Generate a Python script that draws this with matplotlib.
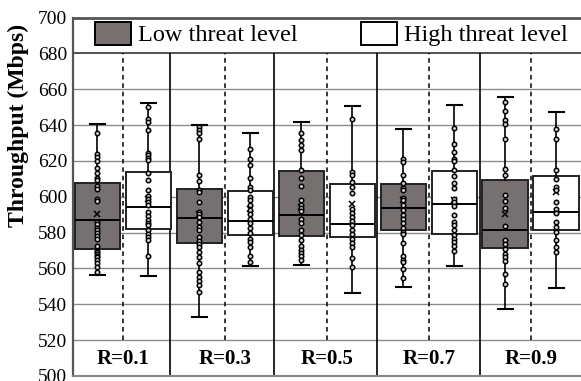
import matplotlib
matplotlib.use("Agg")
import matplotlib.pyplot as plt
from matplotlib.patches import Patch

plt.rcParams["font.family"] = ["Liberation Serif", "DejaVu Serif"]

categories = ["R=0.1", "R=0.3", "R=0.5", "R=0.7", "R=0.9"]
series_names = ["Low threat level", "High threat level"]

# box statistics (Mbps)
low_whislo = [556.4, 533.1, 562.0, 549.9, 537.4]
low_q1 = [570.6, 574.1, 578.1, 581.2, 571.5]
low_med = [586.8, 588.3, 589.8, 593.9, 581.6]
low_q3 = [607.7, 604.4, 614.3, 607.3, 609.6]
low_whishi = [640.4, 640.0, 641.9, 637.6, 655.9]
low_mean = [590.2, 590.6, 594.3, 598.0, 590.2]

high_whislo = [555.9, 561.1, 546.3, 561.3, 549.0]
high_q1 = [582.0, 578.4, 577.3, 579.4, 581.2]
high_med = [594.3, 586.5, 585.0, 595.8, 591.5]
high_q3 = [613.7, 603.2, 607.0, 614.1, 611.8]
high_whishi = [652.1, 635.3, 650.8, 651.2, 647.5]
high_mean = [598.5, 593.4, 596.2, 598.4, 602.7]

# inner points (Mbps)
low_points = [
    [635.3, 623.6, 622.3, 620.0, 616.3, 613.3, 610.7, 609.2, 605.9, 604.6, 599.0, 597.5,
     585.9, 584.6, 582.7, 581.2, 579.7, 577.9, 576.6, 572.8, 570.0, 569.1, 568.2, 567.2,
     566.3, 564.8, 562.9, 560.7, 557.9],
    [638.7, 637.2, 635.3, 632.0, 612.4, 608.8, 604.0, 602.6, 597.0, 591.4, 590.2, 588.7,
     585.9, 583.2, 581.2, 577.5, 575.3, 573.4, 571.9, 569.1, 566.3, 562.9, 557.9, 555.4,
     553.2, 550.8, 546.6],
    [635.7, 631.6, 628.8, 626.0, 615.2, 610.7, 605.9, 598.0, 595.2, 593.9, 592.0, 587.8,
     585.3, 581.2, 578.4, 576.0, 572.8, 570.4, 568.5, 566.7, 564.8],
    [620.8, 619.5, 612.0, 607.7, 605.1, 603.6, 599.5, 598.0, 595.2, 592.8, 589.6, 587.8,
     585.3, 582.7, 580.3, 579.0, 574.1, 566.7, 564.8, 563.5, 559.8, 554.7],
    [653.1, 648.1, 642.8, 640.6, 632.0, 615.6, 612.4, 600.8, 597.5, 593.9, 583.5, 575.6,
     573.7, 570.9, 568.2, 566.3, 564.1, 557.0, 551.4],
]
high_points = [
    [650.3, 643.2, 641.5, 637.2, 624.5, 623.2, 621.7, 620.4, 613.3, 609.6, 603.6, 600.3,
     599.0, 597.1, 595.2, 591.5, 589.0, 587.2, 585.3, 584.0, 581.2, 579.0, 577.5, 576.0,
     567.2],
    [626.9, 620.8, 617.6, 610.7, 605.4, 603.6, 599.9, 598.0, 595.2, 592.4, 590.2, 587.8,
     585.3, 582.7, 579.7, 576.6, 574.7, 571.9, 567.2, 563.5],
    [643.2, 613.9, 612.0, 608.3, 605.4, 602.1, 593.4, 590.9, 588.7, 586.5, 584.0, 581.2,
     579.3, 576.6, 574.1, 571.9, 566.0, 560.7],
    [638.1, 629.7, 625.0, 621.3, 620.0, 614.8, 611.5, 607.7, 604.9, 598.9, 597.1, 594.7,
     589.6, 585.9, 584.0, 581.6, 578.4, 576.6, 574.7, 572.3, 569.7],
    [637.6, 632.0, 614.8, 610.1, 605.4, 603.6, 597.1, 593.4, 590.9, 585.9, 583.2, 580.3,
     575.6, 571.9, 569.1],
]

y_ticks = list(range(500, 701, 20))
low_color = "#777070"
high_color = "white"


def make_stats(wlo, q1, med, q3, whi, mean):
    return [dict(whislo=a, q1=b, med=c, q3=d, whishi=e, mean=f, fliers=[])
            for a, b, c, d, e, f in zip(wlo, q1, med, q3, whi, mean)]


def main():
    fig = plt.figure(figsize=(5.81, 3.81), dpi=100)
    ax = fig.add_axes([73 / 581, 5 / 381, 512 / 581, 358.5 / 381])

    centers = list(range(len(categories)))
    offset, width = 0.25, 0.45

    box_kw = dict(widths=width, patch_artist=True, showmeans=True, showfliers=False,
                  capwidths=0.14,
                  whiskerprops=dict(color="black", lw=1.2),
                  capprops=dict(color="black", lw=1.5),
                  medianprops=dict(color="black", lw=1.4),
                  meanprops=dict(marker="x", markersize=5, markeredgecolor="black",
                                 markeredgewidth=1.1),
                  manage_ticks=False, zorder=3)

    series = [
        (make_stats(low_whislo, low_q1, low_med, low_q3, low_whishi, low_mean),
         low_points, low_color, -offset),
        (make_stats(high_whislo, high_q1, high_med, high_q3, high_whishi, high_mean),
         high_points, high_color, offset),
    ]
    for stats, pts, color, dx in series:
        pos = [c + dx for c in centers]
        ax.bxp(stats, positions=pos,
               boxprops=dict(facecolor=color, edgecolor="#222222", lw=1.4), **box_kw)
        for i, p in enumerate(pts):
            ax.plot([pos[i]] * len(p), p, "o", ms=3.2, mfc="#d8d8d8", mec="black",
                    mew=1.1, zorder=4)

    # separators and centre lines
    ax.vlines([0.46, 1.48, 2.49, 3.5], 500, 680, color="black", lw=1.2, zorder=2)
    ax.vlines(centers, 520, 680, color="black", lw=1.1, linestyles=(0, (3, 2.5)), zorder=2)

    for i, cat in enumerate(categories):
        ax.text(i, 509.5, cat, ha="center", va="center", fontsize=15, fontweight="bold")

    ax.set_xlim(-0.49, 4.53)
    ax.set_ylim(500, 700)
    ax.set_yticks(y_ticks)
    ax.set_xticks([])
    ax.tick_params(axis="y", length=0, pad=4, labelsize=14)
    for t in y_ticks[1:-2]:
        ax.axhline(t, color="#8c8c8c", lw=1, zorder=1)
    ax.axhline(680, color="#333333", lw=1.2, zorder=1)

    ax.spines["right"].set_visible(False)
    ax.spines["top"].set_color("#555555")
    ax.spines["top"].set_linewidth(2)
    ax.spines["left"].set_color("#555555")
    ax.spines["left"].set_linewidth(1.6)
    ax.spines["bottom"].set_color("#888888")
    ax.spines["bottom"].set_linewidth(1.5)

    ax.set_ylabel("Throughput (Mbps)", fontsize=17, fontweight="bold")
    ax.yaxis.set_label_coords(-0.086, 0.70)

    handles = [Patch(facecolor=low_color, edgecolor="black", lw=1.4),
               Patch(facecolor=high_color, edgecolor="black", lw=1.4)]
    ax.legend(handles, series_names, ncol=2, loc="center left",
              bbox_to_anchor=(0.043, 0.954), frameon=False, fontsize=17.5,
              handlelength=1.48, handleheight=1.1, handletextpad=0.29,
              columnspacing=2.6, borderpad=0, borderaxespad=0)

    fig.savefig("out.png", dpi=100)


if __name__ == "__main__":
    main()
